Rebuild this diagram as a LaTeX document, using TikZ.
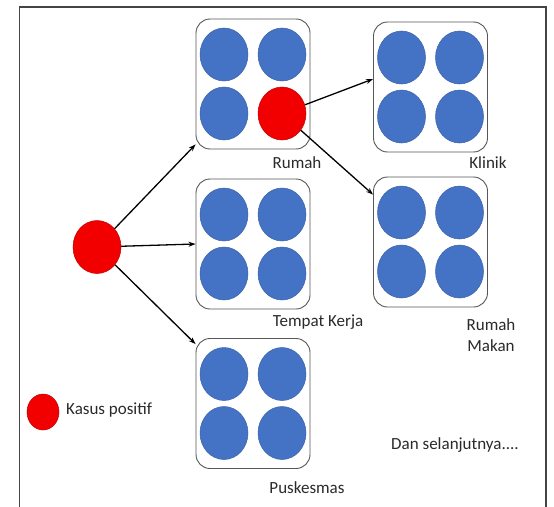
\documentclass[tikz,border=0pt]{standalone}
\usepackage{fontspec}
\setmainfont{Carlito}
\usetikzlibrary{shapes.geometric,arrows.meta}
\definecolor{dotblue}{HTML}{4472C4}
\definecolor{dotred}{HTML}{F20000}
\definecolor{framegray}{HTML}{444444}
\definecolor{txtgray}{HTML}{2A2A2A}
\begin{document}
\begin{tikzpicture}[x=1pt,y=-1pt,
  groupbox/.style={draw=framegray!90, rounded corners=14pt, line width=0.9pt,
    minimum width=114pt, minimum height=130pt, inner sep=0pt, fill=white},
  bluedot/.style={ellipse, fill=dotblue, draw=dotblue!85!black, line width=0.5pt,
    minimum width=48pt, minimum height=53pt, inner sep=0pt},
  reddot/.style={ellipse, fill=dotred, draw=dotred!80!black, line width=0.5pt,
    minimum width=48pt, minimum height=53pt, inner sep=0pt},
  conn/.style={-{Stealth[length=7pt,width=5pt]}, line width=1.3pt, black},
  lbl/.style={font=\fontsize{17}{20.5}\selectfont, text=txtgray, inner sep=0pt, align=center}]
\useasboundingbox (0,0) rectangle (554,506);
\fill[white] (0,0) rectangle (554,506);
\draw[framegray, line width=1.6pt] (19.5,515) -- (19.5,7) -- (546,7) -- (546,515);

% group boxes
\node[groupbox] (rumah) at (253,84) {};
\node[groupbox] (klinik) at (430.5,87) {};
\node[groupbox] (tempat) at (253,244) {};
\node[groupbox] (makan) at (430.5,242) {};
\node[groupbox] (pusk) at (253,403.5) {};

% dots inside boxes
\foreach \b in {rumah,klinik,tempat,makan,pusk}{
  \node[bluedot] (\b1) at ([xshift=-29pt,yshift=29.5pt]\b.center) {};
  \node[bluedot] (\b2) at ([xshift=29pt,yshift=29.5pt]\b.center) {};
  \node[bluedot] (\b3) at ([xshift=-29pt,yshift=-29.5pt]\b.center) {};
}
\foreach \b in {klinik,tempat,makan,pusk}{
  \node[bluedot] (\b4) at ([xshift=29pt,yshift=-29.5pt]\b.center) {};
}
\node[reddot] (rs) at ([xshift=29pt,yshift=-29.5pt]rumah.center) {};

% source case
\node[reddot, minimum width=48pt, minimum height=53pt] (src) at (97,247) {};

% legend
\node[reddot, minimum width=32pt, minimum height=36pt] (leg) at (43,412) {};
\node[lbl, anchor=west] (legtxt) at (66,410) {Kasus positif};

% connectors
\draw[conn] (src) -- ([yshift=5pt]rumah.south west);
\draw[conn] (src) -- (tempat.west);
\draw[conn] (src) -- ([yshift=-6pt]pusk.north west);
\draw[conn] (rs) -- ([yshift=8pt]klinik.west);
\draw[conn] (rs) -- ([yshift=-18pt]makan.north west);

% labels
\node[lbl] (lrumah) at (297,163) {Rumah};
\node[lbl] (lklinik) at (488,163) {Klinik};
\node[lbl] (ltempat) at (318,322) {Tempat Kerja};
\node[lbl] (lmakan) at (491,335) {Rumah\\Makan};
\node[lbl] (ldan) at (455,445) {Dan selanjutnya....};
\node[lbl] (lpusk) at (307,488) {Puskesmas};
\end{tikzpicture}
\end{document}
